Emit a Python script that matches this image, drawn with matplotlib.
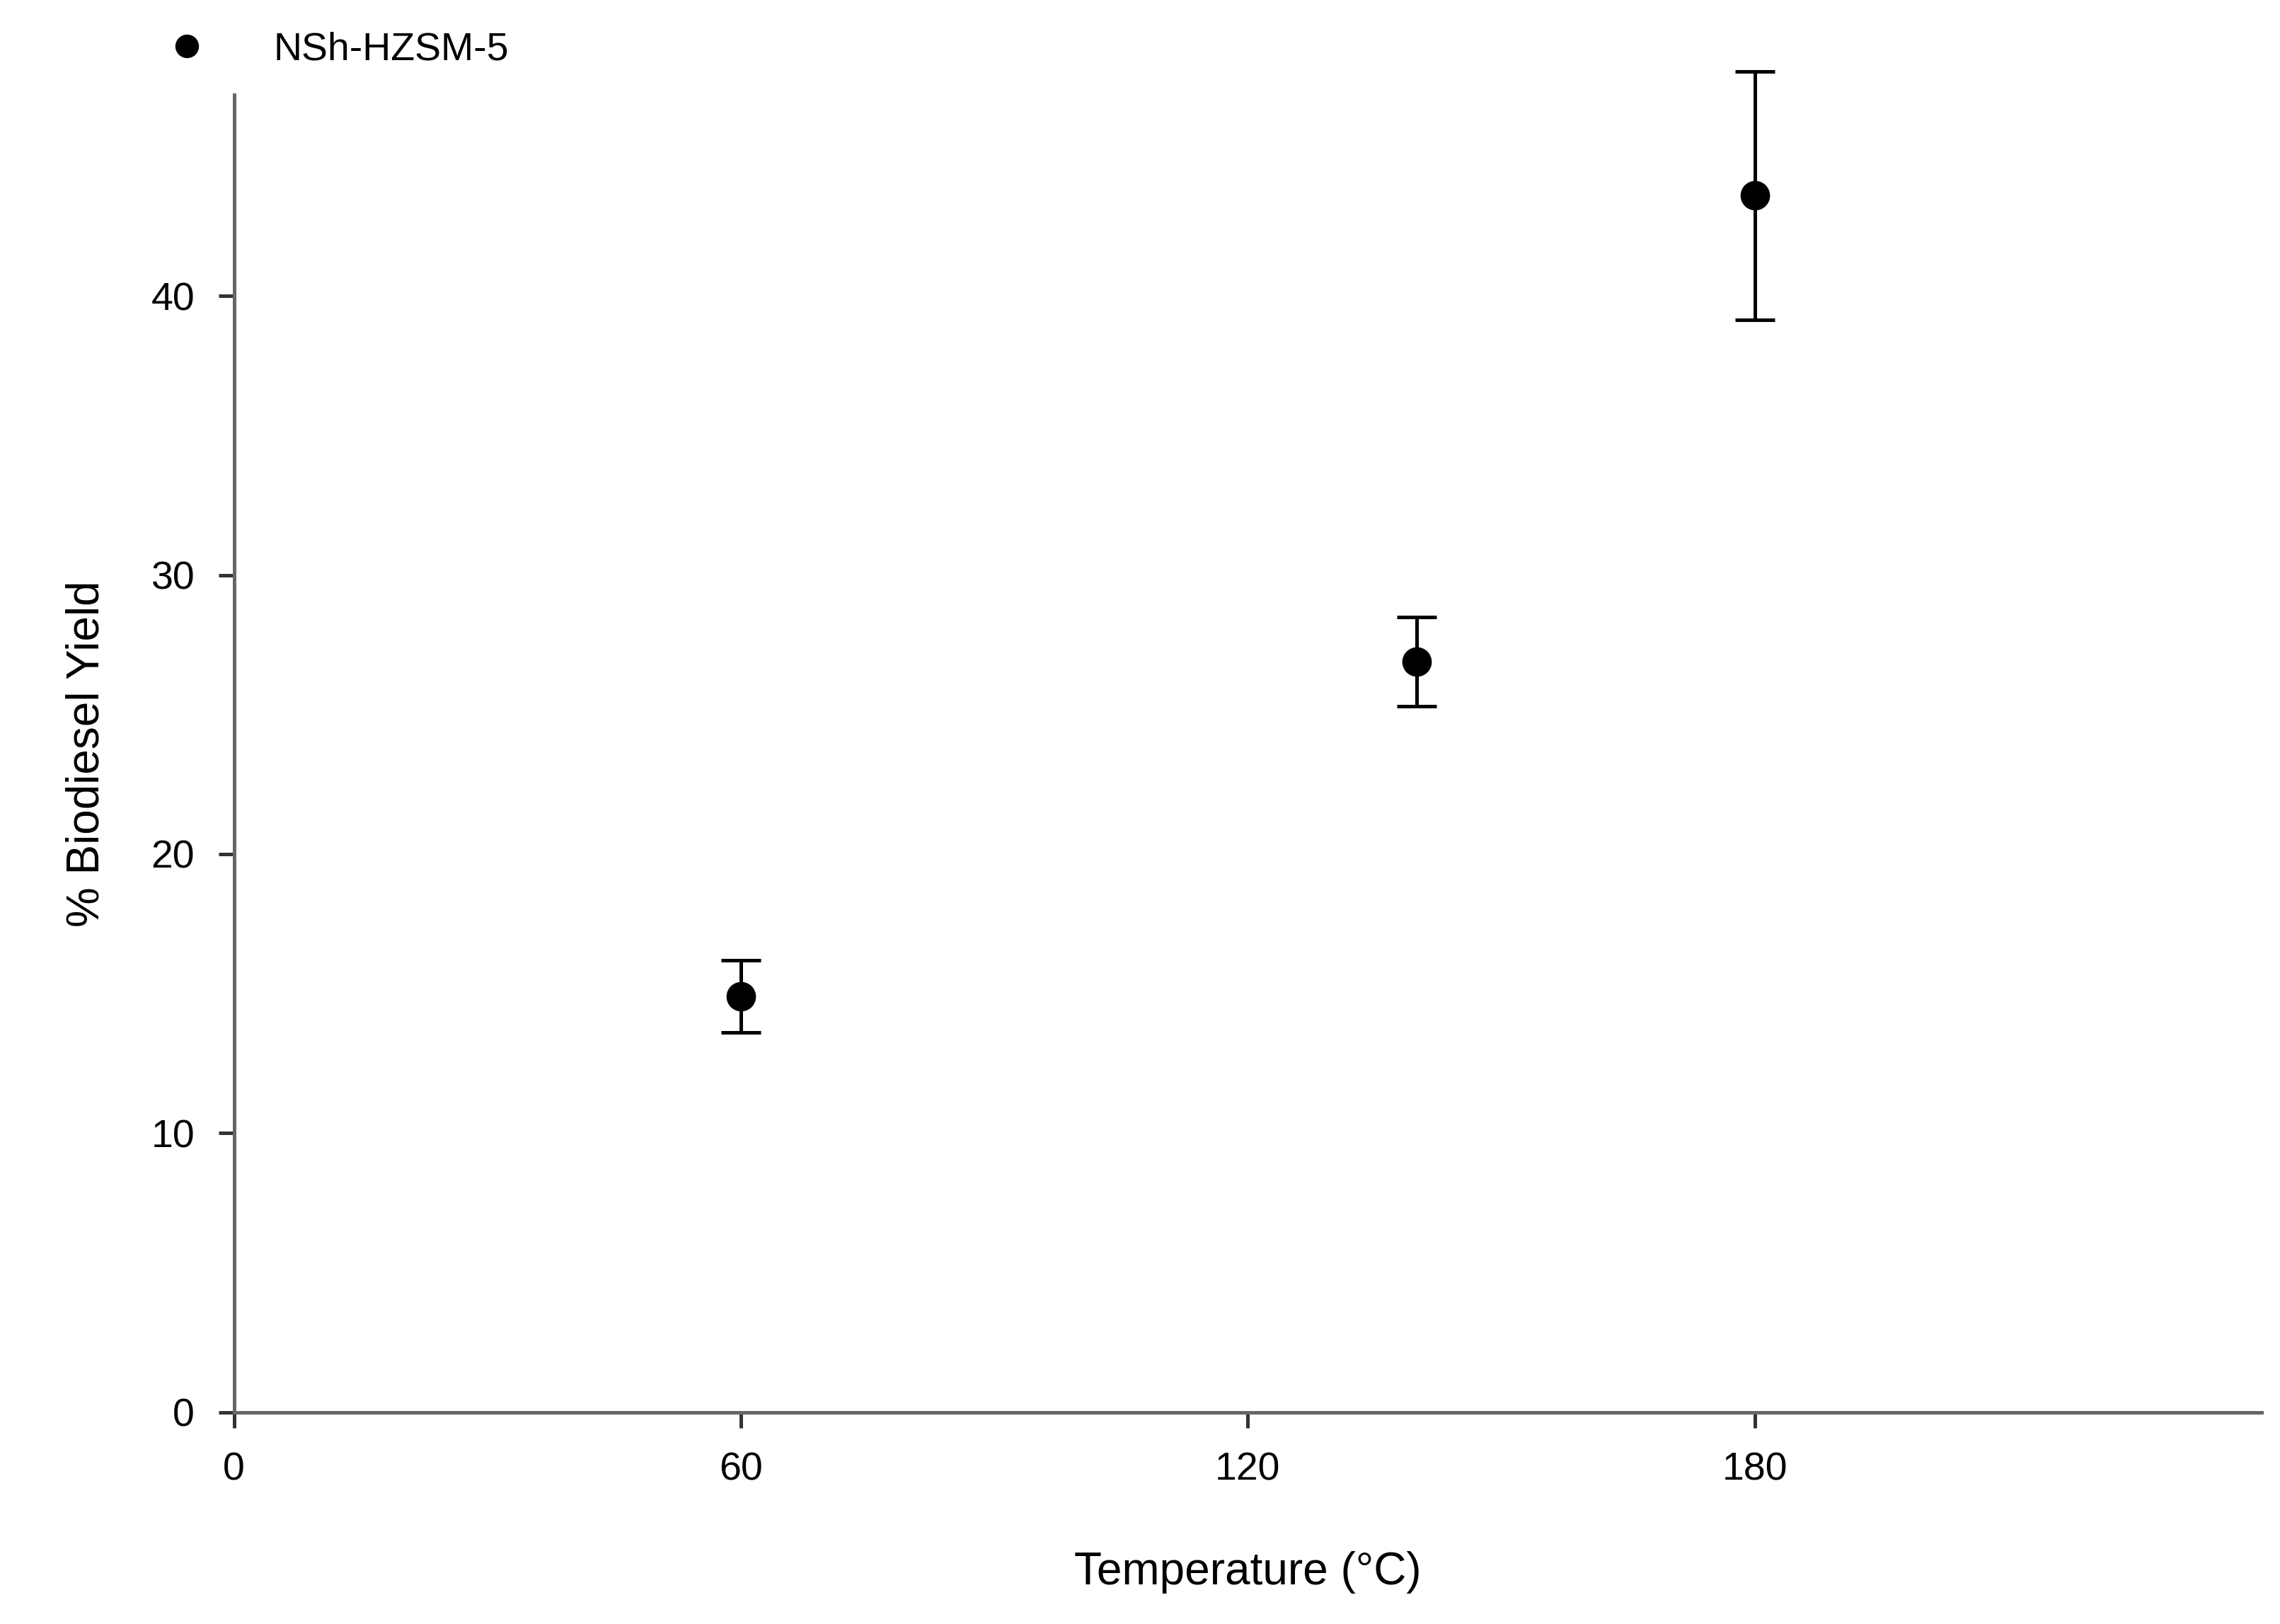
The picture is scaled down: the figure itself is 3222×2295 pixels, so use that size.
import matplotlib
matplotlib.use("Agg")
import matplotlib.pyplot as plt
from matplotlib.lines import Line2D

plt.rcParams['font.family'] = ['Liberation Sans', 'DejaVu Sans']

temperature = [60, 140, 180]
yield_pct = [14.9, 26.9, 43.6]
yield_err = [1.3, 1.6, 4.45]
series_label = "NSh-HZSM-5"
xticks = [0, 60, 120, 180]
yticks = [0, 10, 20, 30, 40]

fig = plt.figure(figsize=(16.11, 11.475), dpi=200)
ax = fig.add_axes([0.1026, 0.1305, 0.8894, 0.811])
cont = ax.errorbar(temperature, yield_pct, yerr=yield_err, fmt='o', color='black',
                   markersize=14, capsize=10, elinewidth=1.8, capthick=1.8)
for art in cont.lines[1] + cont.lines[2] + (cont.lines[0],):
    art.set_clip_on(False)
for coll in cont.lines[2]:
    coll.set_clip_on(False)
ax.set_xlim(0, 240)
ax.set_ylim(0, 47.2)
ax.set_xticks(xticks)
ax.set_yticks(yticks)
for s in ['top', 'right']:
    ax.spines[s].set_visible(False)
for s in ['left', 'bottom']:
    ax.spines[s].set_color('#666666')
    ax.spines[s].set_linewidth(1.8)
ax.tick_params(direction='out', length=8, width=1.8, color='#333333', labelsize=20, pad=12)
ax.set_xlabel("Temperature (°C)", fontsize=23, labelpad=32)
ax.set_ylabel("% Biodiesel Yield", fontsize=23, labelpad=22)
handle = Line2D([], [], marker='o', color='black', linestyle='none', markersize=11)
ax.legend([handle], [series_label], loc='upper left', bbox_to_anchor=(-0.06, 1.075),
          frameon=False, fontsize=20, handletextpad=1.2)
fig.savefig("out.png", dpi=200)
